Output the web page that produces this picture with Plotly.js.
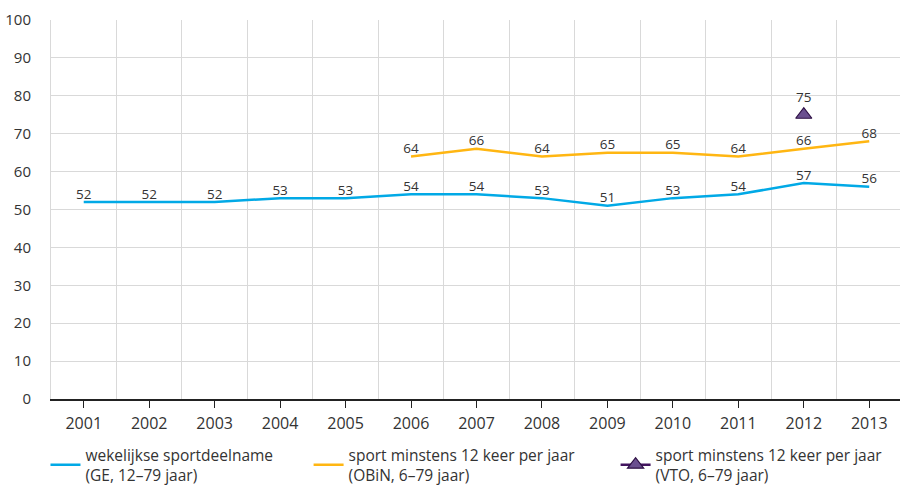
<!DOCTYPE html>
<html>
<head>
<meta charset="utf-8">
<script src="https://cdn.plot.ly/plotly-3.0.1.min.js"></script>
<style>
  html, body { margin: 0; padding: 0; background: #fff; }
  #chart { width: 900px; height: 488px; }
</style>
</head>
<body>
<div id="chart"></div>
<script>
const years = [2001, 2002, 2003, 2004, 2005, 2006, 2007, 2008, 2009, 2010, 2011, 2012, 2013];
const geValues = [52, 52, 52, 53, 53, 54, 54, 53, 51, 53, 54, 57, 56];
const obinYears = [2006, 2007, 2008, 2009, 2010, 2011, 2012, 2013];
const obinValues = [64, 66, 64, 65, 65, 64, 66, 68];
const vtoYears = [2012];
const vtoValues = [75];

const labelFont = { family: "Open Sans, sans-serif", size: 13.5, color: "#333" };

const traces = [
  {
    x: years, y: geValues, text: geValues.map(String),
    mode: "lines+text", type: "scatter", textposition: "top center",
    textfont: labelFont, cliponaxis: false, legend: "legend",
    name: "wekelijkse sportdeelname<br>(GE, 12–79 jaar)",
    line: { color: "#01a9e6", width: 2.5 }
  },
  {
    x: obinYears, y: obinValues, text: obinValues.map(String),
    mode: "lines+text", type: "scatter", textposition: "top center",
    textfont: labelFont, cliponaxis: false, legend: "legend2",
    name: "sport minstens 12 keer per jaar<br>(OBiN, 6–79 jaar)",
    line: { color: "#ffb612", width: 2.5 }
  },
  {
    x: vtoYears, y: vtoValues, text: vtoValues.map(String),
    mode: "lines+markers+text", type: "scatter", textposition: "top center",
    textfont: labelFont, cliponaxis: false, legend: "legend3",
    name: "sport minstens 12 keer per jaar<br>(VTO, 6–79 jaar)",
    line: { color: "#42145f", width: 2.5 },
    marker: { symbol: "triangle-up", size: 14, color: "#6a4f8f", line: { color: "#2e1045", width: 1.2 } }
  }
];

const legendBase = {
  orientation: "h", xanchor: "left", y: -0.103, yanchor: "top",
  font: { size: 15.5, color: "#333" }, itemwidth: 30, bgcolor: "rgba(0,0,0,0)"
};

const layout = {
  width: 900, height: 488,
  margin: { l: 51, r: 0, t: 20, b: 89, autoexpand: false },
  paper_bgcolor: "#fff", plot_bgcolor: "#fff",
  font: { family: "Open Sans, sans-serif", size: 15, color: "#333" },
  showlegend: true,
  legend: Object.assign({}, legendBase, { x: -0.0065 }),
  legend2: Object.assign({}, legendBase, { x: 0.3034 }),
  legend3: Object.assign({}, legendBase, { x: 0.665 }),
  xaxis: {
    range: [2000.5, 2013.47],
    tickvals: years, ticktext: years.map(String),
    ticks: "outside", ticklen: 7, tickcolor: "#222", tickwidth: 1.3,
    ticklabelstandoff: 2,
    showgrid: false, zeroline: false,
    showline: true, linecolor: "#222", linewidth: 1.5,
    minor: { tick0: 2000.5, dtick: 1, showgrid: true, gridcolor: "#d9d9d9", gridwidth: 1, ticks: "" },
    tickfont: { size: 16, color: "#333" }
  },
  yaxis: {
    range: [0, 100], dtick: 10,
    showgrid: true, gridcolor: "#d9d9d9", gridwidth: 1,
    zeroline: false, showline: true, linecolor: "#d9d9d9", linewidth: 1,
    ticks: "", ticklabelstandoff: 16,
    tickfont: { size: 15, color: "#333" }
  }
};

Plotly.newPlot("chart", traces, layout, { displayModeBar: false, responsive: false });
</script>
</body>
</html>
